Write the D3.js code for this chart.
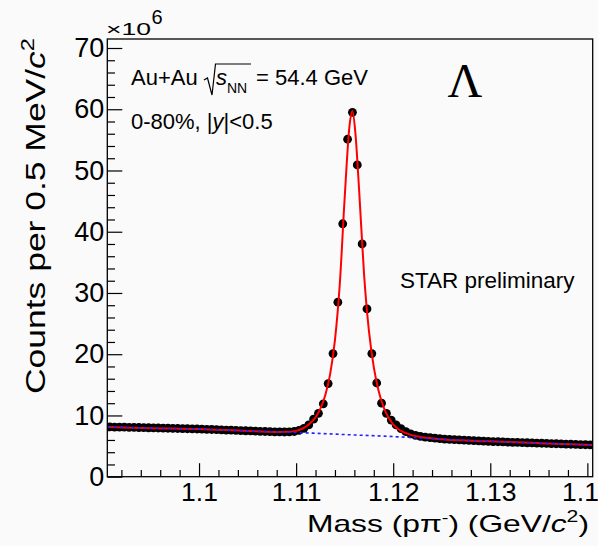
<!DOCTYPE html>
<html>
<head>
<meta charset="utf-8">
<script src="https://cdn.jsdelivr.net/npm/d3@7"></script>
<style>
  body { margin: 0; background: #fafafa; }
  svg { font-family: "Liberation Sans", Arial, sans-serif; }
</style>
</head>
<body>
<div id="chart"></div>
<script>
// Lambda -> p pi- invariant mass, 100 bins of 0.5 MeV, counts in units of 10^6
var massLow = 1.09055,
    binWidth = 0.0005;

var counts = [
  8.12, 8.11, 8.09, 8.08, 8.06, 8.04, 8.03, 8.01, 7.99, 7.97,
  7.95, 7.93, 7.91, 7.89, 7.87, 7.85, 7.83, 7.81, 7.79, 7.77,
  7.74, 7.71, 7.68, 7.65, 7.62, 7.59, 7.56, 7.53, 7.50, 7.47,
  7.44, 7.41, 7.38, 7.35, 7.33, 7.31, 7.30, 7.31, 7.38, 7.55,
  7.90, 8.45, 9.40, 10.35, 11.9, 15.2, 20.1, 28.5, 41.3, 55.1,
  59.5, 50.9, 38.0, 27.4, 20.1, 15.3, 12.0, 10.35, 9.25, 8.45,
  7.85, 7.35, 7.00, 6.75, 6.58, 6.46, 6.37, 6.29, 6.22, 6.15,
  6.09, 6.05, 6.01, 5.97, 5.93, 5.89, 5.85, 5.81, 5.77, 5.74,
  5.71, 5.68, 5.65, 5.62, 5.60, 5.57, 5.54, 5.51, 5.49, 5.46,
  5.43, 5.41, 5.38, 5.35, 5.33, 5.30, 5.27, 5.25, 5.22, 5.19
];

// signal + background fit (red)
var fitMass = [1.0906, 1.095, 1.100, 1.105, 1.108, 1.109, 1.110, 1.1105, 1.1110, 1.1115,
  1.1120, 1.1125, 1.1130, 1.1135, 1.1140, 1.1145, 1.1150, 1.1155, 1.1158, 1.1161,
  1.1165, 1.1170, 1.1175, 1.1180, 1.1185, 1.1190, 1.1195, 1.1200, 1.1205, 1.1210,
  1.1220, 1.1230, 1.1250, 1.130, 1.135, 1.1406];
var fitCounts = [8.12, 7.93, 7.78, 7.45, 7.31, 7.32, 7.48, 7.75, 8.15, 8.8,
  9.7, 11.1, 13.3, 16.7, 22.3, 31.5, 45.5, 57.3, 59.7, 56.2,
  46.5, 33.0, 23.8, 17.9, 14.0, 11.4, 9.7, 8.55, 7.8, 7.3,
  6.75, 6.45, 6.12, 5.77, 5.48, 5.19];

// background only (blue dashed)
var bkgMass = [1.0906, 1.095, 1.100, 1.105, 1.110, 1.115, 1.120, 1.125, 1.130, 1.135, 1.1406];
var bkgCounts = [8.12, 7.93, 7.78, 7.45, 7.22, 6.88, 6.55, 6.13, 5.77, 5.48, 5.19];

var xMajor = [1.10, 1.11, 1.12, 1.13, 1.14];
var yMajor = [0, 10, 20, 30, 40, 50, 60, 70];

var width = 598,
    height = 546;
var mL = 107.3, mR = 592.7, mT = 39, mB = 476.7;

var svg = d3.select("#chart")
  .append("svg")
  .attr("width", width)
  .attr("height", height);

svg.append("rect").attr("width", width).attr("height", height).attr("fill", "#fafafa");

var x = d3.scaleLinear().domain([massLow, massLow + 100 * binWidth]).range([mL, mR]);
var y = d3.scaleLinear().domain([0, 71.47]).range([mB, mT]);

var xMinor = d3.range(1.092, 1.1406, 0.002).filter(function (d) { return Math.abs(d * 100 - Math.round(d * 100)) > 1e-6; });
var yMinor = d3.range(2, 71, 2).filter(function (d) { return d % 10 != 0; });

svg.append("defs").append("clipPath").attr("id", "frame")
  .append("rect").attr("x", mL).attr("y", mT).attr("width", mR - mL).attr("height", mB - mT);

// axes (ticks point into the frame)
var gx = svg.append("g").attr("transform", "translate(0," + mB + ")");
gx.call(d3.axisBottom(x).tickValues(xMajor).tickSize(-13.5).tickPadding(5)
  .tickFormat(function (d) { return String(+d.toFixed(2)); }));
gx.append("g").call(d3.axisBottom(x).tickValues(xMinor).tickSize(-6.7).tickFormat(""));
gx.selectAll(".tick text").style("font-size", "26.5px");

var gy = svg.append("g").attr("transform", "translate(" + mL + ",0)");
gy.call(d3.axisLeft(y).tickValues(yMajor).tickSize(-15).tickPadding(3));
gy.append("g").call(d3.axisLeft(y).tickValues(yMinor).tickSize(-7.7).tickFormat(""));
gy.selectAll(".tick text").style("font-size", "27px");

svg.selectAll(".domain").remove();
svg.selectAll(".tick line").attr("stroke", "#000").attr("stroke-width", 1.2);
svg.selectAll(".tick text").attr("fill", "#000")
  .style("font-family", "'Liberation Sans', Arial, sans-serif");

var plot = svg.append("g").attr("clip-path", "url(#frame)");

// data points
plot.selectAll(".pt")
  .data(counts)
  .enter().append("circle")
  .attr("class", "pt")
  .attr("cx", function (d, i) { return x(massLow + (i + 0.5) * binWidth); })
  .attr("cy", function (d) { return y(d); })
  .attr("r", 4.4)
  .attr("fill", "#000");

var line = d3.line().curve(d3.curveMonotoneX)
  .x(function (d) { return x(d[0]); })
  .y(function (d) { return y(d[1]); });

plot.append("path")
  .datum(d3.zip(fitMass, fitCounts))
  .attr("d", line)
  .attr("fill", "none")
  .attr("stroke", "#ff0000")
  .attr("stroke-width", 2);

plot.append("path")
  .datum(d3.zip(bkgMass, bkgCounts))
  .attr("d", line)
  .attr("fill", "none")
  .attr("stroke", "#2020ff")
  .attr("stroke-width", 1.6)
  .attr("stroke-dasharray", "3,3");

// frame
svg.append("rect")
  .attr("x", mL).attr("y", mT)
  .attr("width", mR - mL).attr("height", mB - mT)
  .attr("fill", "none").attr("stroke", "#000").attr("stroke-width", 1.3);

// exponent
svg.append("text").attr("x", 106).attr("y", 34.5).style("font-size", "17px")
  .attr("textLength", 45).attr("lengthAdjust", "spacingAndGlyphs").text("\u00d710");
svg.append("text").attr("x", 151.5).attr("y", 23.5).style("font-size", "20px").text("6");

// axis titles
var yt = svg.append("text")
  .attr("transform", "translate(45,394) rotate(-90)")
  .attr("textLength", 356).attr("lengthAdjust", "spacingAndGlyphs")
  .style("font-size", "27px");
yt.append("tspan").text("Counts per 0.5 MeV/");
yt.append("tspan").style("font-style", "italic").text("c");
yt.append("tspan").attr("dy", -11).style("font-size", "18px").text("2");

var xt = svg.append("text")
  .attr("x", 307).attr("y", 532)
  .attr("textLength", 282).attr("lengthAdjust", "spacingAndGlyphs")
  .style("font-size", "24px");
xt.append("tspan").text("Mass (p\u03c0");
xt.append("tspan").attr("dy", -9).style("font-size", "15px").text("-");
xt.append("tspan").attr("dy", 9).text(") (GeV/");
xt.append("tspan").style("font-style", "italic").text("c");
xt.append("tspan").attr("dy", -10).style("font-size", "16px").text("2");
xt.append("tspan").attr("dy", 10).text(")");

// labels inside the frame
svg.append("text").attr("x", 131).attr("y", 85).style("font-size", "22px").text("Au+Au");
svg.append("path")
  .attr("d", "M204,80 L207.5,78 L212,95 L215.5,64 H251")
  .attr("fill", "none").attr("stroke", "#000").attr("stroke-width", 1.2);
svg.append("text").attr("x", 216).attr("y", 85).style("font-size", "22px").style("font-style", "italic").text("s");
svg.append("text").attr("x", 227).attr("y", 93).style("font-size", "14px").text("NN");
svg.append("text").attr("x", 256).attr("y", 85).style("font-size", "22px").text("= 54.4 GeV");

var cent = svg.append("text").attr("x", 131).attr("y", 129).style("font-size", "22px");
cent.append("tspan").text("0-80%, |");
cent.append("tspan").style("font-style", "italic").text("y");
cent.append("tspan").text("|<0.5");

svg.append("text").attr("x", 465).attr("y", 97).attr("text-anchor", "middle")
  .style("font-family", "'Liberation Serif', 'Times New Roman', serif")
  .style("font-size", "48px").text("\u039b");

svg.append("text").attr("x", 400).attr("y", 288).style("font-size", "22.5px").text("STAR preliminary");
</script>
</body>
</html>
